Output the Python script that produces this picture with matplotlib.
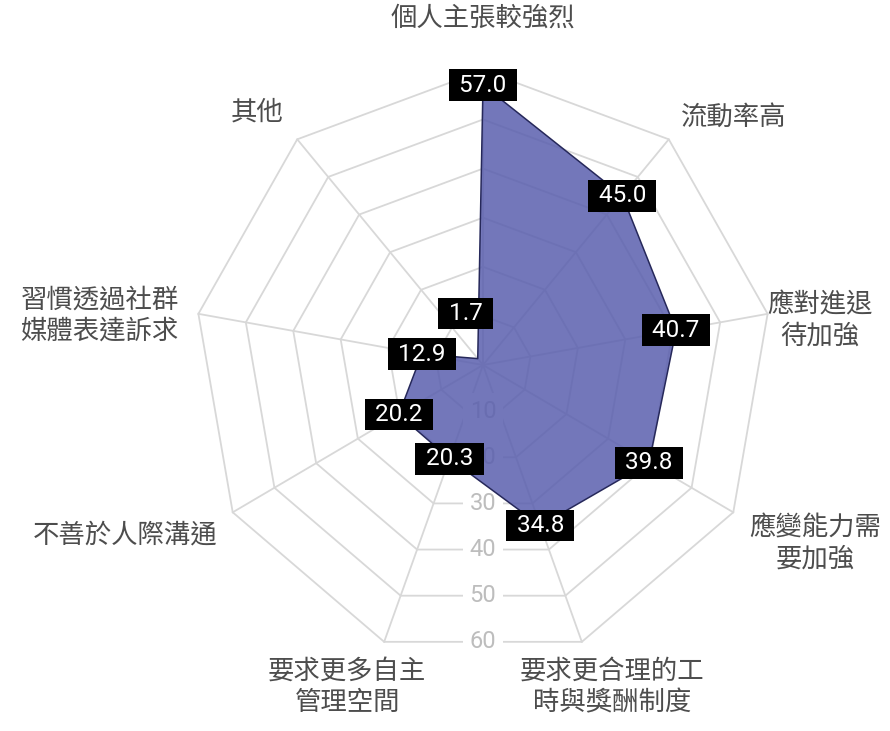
import numpy as np
import matplotlib
matplotlib.use("Agg")
import matplotlib.pyplot as plt

plt.rcParams['font.family'] = ['Noto Sans CJK TC', 'DejaVu Sans']

categories = ["個人主張較強烈", "流動率高", "應對進退\n待加強", "應變能力需\n要加強",
              "要求更合理的工\n時與獎酬制度", "要求更多自主\n管理空間", "不善於人際溝通",
              "習慣透過社群\n媒體表達訴求", "其他"]
values = [57.0, 45.0, 40.7, 39.8, 34.8, 20.3, 20.2, 12.9, 1.7]
rings = [10, 20, 30, 40, 50, 60]
ring_labels = ["10", "20", "30", "40", "50", "60"]

# pixel offsets of category labels from the outer vertex
label_offsets = [(0, -52), (65, -22), (52, 7), (82, 31), (30, 45),
                 (-37, 45), (-108, 23), (-99, 2), (-40, -27)]
# value boxes that are pushed away from their point
value_offsets = {8: (-12, -45)}

n = len(categories)
ang = np.arange(n) * 2 * np.pi / n
rmax = rings[-1]

fig = plt.figure(figsize=(8.9, 7.31), dpi=100)
ax = fig.add_axes([0, 0, 1, 1])
px_x = 289 / 60.0
px_y = 294.6 / 60.0
cx, cy = 483, 365
ax.set_xlim(-cx / px_x, (890 - cx) / px_x)
ax.set_ylim(-(731 - cy) / px_y, cy / px_y)
ax.axis("off")

grid_col = "#d8d8d8"
# polygon rings
for r in rings:
    gx = np.append(r * np.sin(ang), 0)
    gy = np.append(r * np.cos(ang), 0)
    gx[-1], gy[-1] = gx[0], gy[0]
    ax.plot(gx, gy, color=grid_col, lw=1.3, zorder=1)
# spokes
for a in ang:
    ax.plot([0, rmax * np.sin(a)], [0, rmax * np.cos(a)], color=grid_col, lw=1.3, zorder=1)

# radial tick labels along the bottom edge
edge = np.cos(np.pi / n)
for r, lab in zip(rings, ring_labels):
    ax.text(0, -r * edge, lab, ha="center", va="center", fontsize=17,
            color="#bdbdbd", family=["Roboto", "DejaVu Sans"], zorder=1.5,
            bbox=dict(boxstyle="square,pad=0.3", fc="white", ec="none"))

# data polygon
vx = np.array(values) * np.sin(ang)
vy = np.array(values) * np.cos(ang)
ax.fill(vx, vy, color="#5a5fae", alpha=0.85, zorder=2, lw=0)
ax.plot(np.append(vx, vx[0]), np.append(vy, vy[0]), color="#26285a", lw=1.1, zorder=3)

# value labels
for i, v in enumerate(values):
    dx, dy = value_offsets.get(i, (0, 0))
    ax.annotate(f" {v:.1f} ", (vx[i], vy[i]), xytext=(dx, -dy), textcoords="offset pixels",
                ha="center", va="center", fontsize=17.5, color="white",
                family=["Roboto", "DejaVu Sans"], zorder=5,
                bbox=dict(boxstyle="square,pad=0.18", fc="black", ec="none"))

# category labels
for i, lab in enumerate(categories):
    dx, dy = label_offsets[i]
    ax.annotate(lab, (rmax * np.sin(ang[i]), rmax * np.cos(ang[i])), xytext=(dx, -dy),
                textcoords="offset pixels", ha="center", va="center",
                multialignment="center", fontsize=19, color="#4d4d4d",
                linespacing=1.2, zorder=4)

fig.savefig("out.png", dpi=100)
